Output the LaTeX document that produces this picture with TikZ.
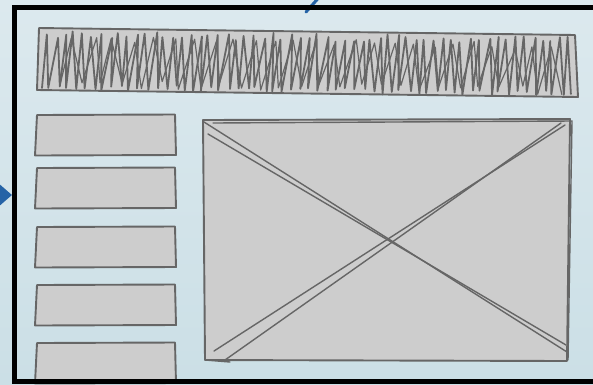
\documentclass[tikz,border=0pt]{standalone}
\usetikzlibrary{arrows.meta}
\definecolor{bgtop}{HTML}{DCE9EE}
\definecolor{bgbot}{HTML}{CBDFE6}
\definecolor{sketch}{HTML}{666666}
\definecolor{boxgray}{HTML}{CDCDCD}
\definecolor{arrowblue}{HTML}{2563A6}
\tikzset{
  sk/.style={draw=sketch, line width=1.9pt, line join=round, line cap=round},
  skthin/.style={draw=sketch, line width=1.4pt, line cap=round},
  hatch/.style={draw=sketch, line width=1.8pt, line join=round, line cap=round},
  framebox/.style={draw=black, line width=5pt},
  bluearrow/.style={draw=arrowblue, line width=3pt, line cap=round}
}
\begin{document}
\begin{tikzpicture}[x=1pt,y=-1pt]
\useasboundingbox (0,0) rectangle (593,384);
\clip (0,0) rectangle (593,384);
\shade[top color=bgtop,bottom color=bgbot] (0,0) rectangle (593,384);
% blue connectors coming from outside
\coordinate (lfrom) at (-60,195);
\coordinate (lto) at (12,195);
\draw[arrowblue, line width=3pt, -{Triangle[length=12pt,width=20pt]}] (lfrom) -- (lto);
\coordinate (tfrom) at (330,-15);
\coordinate (tto) at (306,12);
\draw[bluearrow] (tfrom) -- (tto);
% header bar
\draw[sk,fill=boxgray] (39,28) -- (575,35) -- (578,97) -- (37,90) -- cycle;
\pgfmathsetseed{11}
\draw[hatch] (42,88) \foreach \i in {1,...,118} { -- ({40+\i*4.5+2.2*rand+(mod(\i,2)==1 ? 3 : 0)},{mod(\i,2)==1 ? 34+0.013*\i*4.5+4*rand : 87+0.013*\i*4.5+3*rand}) };
\pgfmathsetseed{5}
\draw[hatch, line width=1.2pt] (60,85) \foreach \i in {1,...,50} { -- ({60+\i*10+3*rand+(mod(\i,2)==1 ? 4 : 0)},{mod(\i,2)==1 ? 40+0.013*\i*10+5*rand : 84+0.013*\i*10+4*rand}) };
% left boxes
\foreach \y in {115,168,227,285,343}{
  \draw[sk,fill=boxgray] (37,\y) -- (175,\y-0.5) -- (176,\y+40) -- (35,\y+40.5) -- cycle;
}
% image placeholder
\draw[sk,fill=boxgray] (203,120) -- (570,119) -- (567,361) -- (205,360) -- cycle;
\draw[skthin] (213,123) -- (572,121) -- (568,360);
\draw[skthin] (205,360) -- (230,362);
\draw[skthin] (204,122) -- (567,352);
\draw[skthin] (208,134) -- (566,345);
\draw[skthin] (214,351) -- (565,125);
\draw[skthin] (225,360) -- (561,123);
% frame
\draw[framebox] (14.5,7.5) rectangle (640,381.5);
\end{tikzpicture}
\end{document}
